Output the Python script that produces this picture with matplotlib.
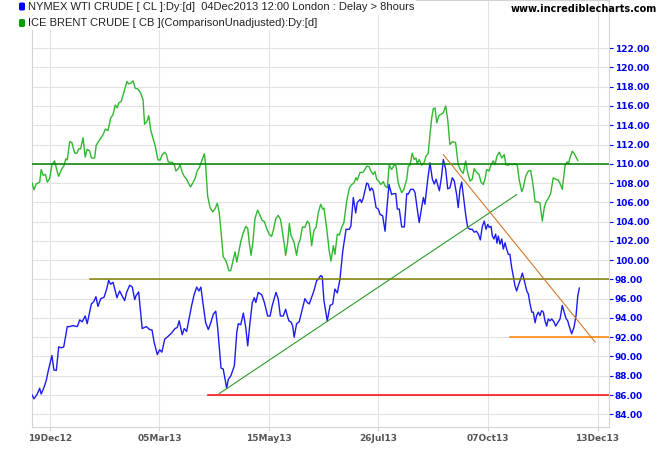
import matplotlib
matplotlib.use("Agg")
import matplotlib.pyplot as plt
from matplotlib.patches import FancyBboxPatch

# x = trading-day position (0 = 19Dec12), y = price
wti = [(-8.2, 86.0), (-7.3, 85.6), (-5.8, 86.1), (-4.7, 86.7), (-4.0, 86.1), (-2.7, 86.8), (-1.7, 87.5),
       (-0.6, 88.7), (0.9, 90.1), (1.8, 88.6), (2.9, 88.55), (4.0, 91.0), (5.2, 90.9), (6.3, 91.0), (7.9, 93.1),
       (9.0, 93.1), (10.5, 93.2), (12.5, 93.1), (13.6, 93.8), (14.7, 93.6), (16.1, 94.2), (17.0, 93.4),
       (18.9, 95.45), (20.0, 95.7), (21.0, 96.2), (21.9, 95.2), (23.2, 96.0), (24.7, 96.15), (25.9, 97.0),
       (26.8, 97.9), (27.7, 97.5), (28.8, 97.7), (29.8, 96.8), (30.6, 96.1), (31.8, 96.8), (32.9, 96.3),
       (34.1, 95.8), (35.0, 96.65), (36.4, 97.4), (37.6, 97.2), (38.7, 95.9), (39.3, 96.3), (40.5, 96.7),
       (41.4, 94.6), (42.1, 92.9), (44.0, 93.1), (45.5, 92.8), (46.6, 92.75), (47.5, 91.55), (49.0, 90.2),
       (50.1, 90.7), (51.1, 90.45), (52.4, 91.8), (54.0, 92.1), (55.6, 92.45), (57.1, 92.9), (58.1, 93.0),
       (59.0, 93.7), (60.4, 92.25), (61.3, 92.9), (62.4, 92.6), (63.5, 93.9), (64.7, 95.3), (65.8, 96.4),
       (67.0, 97.2), (68.0, 96.8), (68.9, 97.2), (70.0, 95.3), (71.1, 93.5), (72.3, 92.8), (73.5, 93.55),
       (74.6, 94.4), (75.7, 94.7), (76.6, 92.9), (78.1, 88.8), (79.1, 88.7), (80.7, 86.7), (81.4, 87.6),
       (82.6, 88.0), (84.2, 89.05), (85.3, 92.5), (86.0, 93.4), (87.1, 93.3), (88.3, 94.5), (89.4, 93.0),
       (90.3, 91.1), (91.3, 93.45), (92.4, 95.6), (93.3, 96.1), (94.0, 95.6), (95.1, 96.65), (96.7, 96.4),
       (97.9, 95.6), (99.4, 94.2), (100.5, 94.2), (101.5, 95.3), (103.2, 96.65), (104.2, 96.0), (105.2, 94.2),
       (106.5, 94.2), (107.6, 94.9), (108.4, 94.2), (109.1, 93.7), (110.0, 93.6), (110.8, 93.2), (111.5, 92.0),
       (112.6, 93.4), (113.8, 93.6), (115.3, 95.0), (116.4, 96.0), (117.5, 95.6), (118.4, 95.45), (119.5, 96.15),
       (120.5, 96.8), (121.8, 97.9), (122.5, 98.0), (123.6, 98.4), (124.3, 98.3), (125.1, 95.8), (126.6, 93.7),
       (127.9, 95.3), (129.1, 95.45), (130.1, 97.0), (131.2, 96.6), (132.4, 98.0), (133.7, 100.95),
       (135.2, 103.2), (136.7, 103.2), (137.4, 103.55), (138.5, 106.5), (139.6, 104.9), (140.3, 105.97),
       (141.6, 106.3), (142.3, 105.97), (143.1, 106.5), (144.6, 108.0), (145.3, 107.9), (146.1, 107.2),
       (146.9, 107.5), (147.6, 107.2), (148.9, 105.45), (149.9, 105.3), (150.7, 104.75), (151.9, 104.6),
       (153.0, 103.0), (154.0, 105.8), (154.8, 107.85), (156.0, 106.8), (156.8, 106.9), (157.9, 106.9),
       (158.6, 105.3), (159.5, 105.3), (160.6, 103.45), (161.8, 103.45), (162.9, 106.9), (163.6, 106.85),
       (164.7, 107.35), (165.9, 107.35), (166.7, 107.0), (167.7, 105.3), (168.6, 103.9), (169.7, 105.45),
       (170.5, 106.5), (171.2, 105.8), (172.5, 108.4), (173.5, 110.1), (174.6, 108.4), (175.5, 107.9),
       (176.3, 108.4), (177.8, 107.2), (178.8, 108.7), (179.6, 110.45), (180.7, 109.4), (181.6, 107.4),
       (182.6, 107.5), (183.7, 108.55), (184.6, 108.2), (185.7, 106.8), (186.4, 105.45), (187.2, 107.35),
       (188.0, 108.1), (188.7, 106.8), (189.8, 104.75), (190.7, 103.4), (191.8, 103.2), (192.8, 103.2),
       (193.7, 102.9), (194.7, 103.0), (195.6, 102.7), (196.5, 102.1), (197.4, 103.5), (198.3, 104.05),
       (199.1, 103.2), (199.9, 103.7), (200.6, 103.4), (201.4, 103.5), (202.0, 102.5), (202.7, 102.2),
       (203.5, 102.7), (204.1, 101.75), (204.7, 102.5), (205.5, 101.65), (206.3, 102.2), (207.0, 101.15),
       (207.8, 101.8), (208.5, 101.15), (209.3, 100.6), (210.0, 100.6), (210.8, 99.25), (211.5, 98.4),
       (212.3, 97.35), (213.1, 96.8), (213.8, 97.35), (214.6, 97.85), (215.7, 98.65), (216.6, 97.85),
       (217.7, 96.8), (218.4, 96.5), (219.2, 95.45), (220.0, 94.6), (220.7, 94.6), (221.5, 93.5), (222.2, 94.25),
       (223.0, 94.6), (223.7, 94.25), (224.5, 94.75), (225.3, 94.6), (226.0, 93.7), (226.8, 93.15),
       (227.5, 93.9), (228.3, 93.7), (229.1, 93.9), (230.1, 93.6), (230.9, 93.15), (231.8, 93.5), (232.9, 93.9),
       (233.9, 95.3), (234.8, 94.6), (235.6, 93.95), (236.4, 93.7), (237.0, 93.2), (238.2, 92.35),
       (239.3, 93.05), (240.2, 94.25), (241.0, 96.3), (241.7, 97.1)]

brent = [(-8.2, 108.0), (-7.3, 107.3), (-6.3, 107.9), (-4.7, 108.1), (-4.0, 109.4), (-3.1, 108.8), (-2.1, 108.9),
         (-1.2, 108.1), (-0.1, 108.5), (0.9, 109.9), (2.1, 110.3), (3.3, 109.2), (4.0, 108.7), (5.2, 109.4),
         (6.4, 109.8), (7.2, 110.5), (7.9, 110.4), (9.0, 112.3), (10.0, 112.2), (11.3, 111.1), (12.3, 111.1),
         (13.1, 111.55), (14.0, 111.55), (15.1, 112.7), (16.1, 110.7), (17.0, 111.5), (18.1, 111.35),
         (18.9, 110.6), (20.4, 110.6), (21.1, 111.9), (22.7, 112.5), (24.2, 113.0), (25.3, 113.6), (26.5, 113.45),
         (27.7, 114.75), (28.8, 115.1), (29.8, 116.1), (30.7, 115.8), (31.4, 116.3), (32.6, 116.5), (33.7, 117.4),
         (35.2, 118.55), (35.9, 118.3), (36.8, 118.35), (38.0, 118.6), (38.9, 117.85), (40.2, 117.75),
         (41.4, 117.35), (42.5, 116.65), (43.2, 114.1), (44.3, 114.4), (45.1, 115.0), (46.0, 113.5), (47.0, 112.7),
         (48.1, 111.8), (49.3, 110.4), (50.4, 110.4), (51.1, 110.9), (52.4, 111.2), (53.1, 111.0), (54.0, 110.2),
         (54.8, 110.15), (55.8, 110.15), (56.8, 109.9), (57.5, 109.25), (58.6, 109.5), (59.4, 109.9),
         (60.4, 109.1), (61.3, 108.7), (62.4, 108.4), (63.2, 108.0), (64.2, 107.6), (65.2, 108.0), (66.2, 108.45),
         (67.3, 109.3), (68.2, 109.6), (69.3, 110.3), (70.5, 111.05), (71.1, 109.75), (72.0, 106.65),
         (73.1, 105.45), (74.3, 105.0), (75.3, 105.3), (76.4, 105.9), (77.3, 104.9), (78.4, 102.2), (79.1, 100.35),
         (80.2, 100.0), (81.1, 99.4), (81.7, 98.9), (82.5, 98.9), (83.4, 99.75), (84.5, 100.85), (85.3, 99.8),
         (86.0, 100.6), (87.2, 102.0), (88.3, 102.85), (89.4, 103.5), (90.3, 103.3), (91.0, 101.8), (91.8, 100.5),
         (92.6, 101.75), (93.6, 104.3), (94.8, 105.2), (95.9, 104.65), (96.9, 104.1), (97.9, 104.0), (98.9, 103.3),
         (100.1, 102.7), (101.2, 102.45), (102.0, 103.1), (103.1, 104.3), (104.2, 104.65), (105.3, 104.2),
         (106.1, 103.0), (107.0, 101.65), (107.6, 100.5), (108.5, 101.8), (109.3, 103.8), (110.0, 102.6),
         (110.8, 102.2), (111.5, 101.8), (112.6, 100.5), (113.4, 101.65), (114.2, 102.1), (115.3, 103.45),
         (116.4, 103.4), (117.5, 104.05), (118.4, 103.8), (119.5, 101.5), (120.5, 103.1), (121.5, 103.4),
         (122.5, 104.9), (123.6, 105.8), (124.5, 105.3), (125.1, 105.4), (126.3, 103.4), (127.5, 100.95),
         (128.3, 99.9), (129.4, 101.5), (130.1, 100.6), (131.2, 102.7), (132.1, 102.6), (133.2, 103.4),
         (134.2, 103.9), (135.5, 106.15), (136.7, 107.5), (137.8, 107.85), (138.8, 108.0), (139.7, 108.55),
         (140.3, 108.3), (141.6, 109.1), (142.8, 109.1), (143.8, 109.4), (144.6, 109.75), (145.7, 109.7),
         (146.6, 109.2), (147.6, 108.9), (148.4, 109.2), (149.2, 108.4), (150.2, 108.15), (151.1, 107.85),
         (152.2, 108.15), (153.0, 107.7), (154.0, 107.5), (154.9, 109.85), (156.0, 109.4), (157.1, 109.85),
         (158.0, 109.8), (159.0, 108.0), (160.6, 107.0), (161.6, 107.35), (162.9, 108.4), (163.6, 109.75),
         (164.4, 109.85), (165.4, 111.1), (166.3, 110.45), (167.1, 110.6), (167.7, 110.0), (168.6, 110.45),
         (169.7, 109.85), (170.8, 110.1), (171.7, 110.8), (172.7, 111.05), (173.5, 113.0), (174.3, 114.75),
         (175.0, 115.7), (175.8, 115.8), (176.6, 114.25), (177.6, 115.0), (179.6, 115.3), (180.7, 116.0),
         (181.6, 114.6), (182.6, 112.0), (183.8, 112.3), (185.2, 112.2), (186.4, 109.9), (187.7, 109.25),
         (188.7, 109.0), (189.8, 110.3), (190.7, 109.1), (191.8, 108.2), (192.8, 108.4), (193.7, 109.5),
         (194.8, 109.1), (195.9, 108.9), (196.8, 108.1), (197.9, 107.85), (198.6, 108.4), (199.4, 109.4),
         (200.5, 109.25), (201.4, 109.9), (202.4, 110.3), (203.2, 109.9), (204.1, 110.8), (205.2, 111.2),
         (206.3, 110.6), (207.4, 110.95), (208.2, 109.9), (209.3, 109.85), (210.0, 110.0), (211.1, 109.9),
         (212.3, 110.0), (213.4, 109.85), (214.2, 108.4), (215.4, 107.1), (216.1, 107.5), (217.2, 108.7),
         (218.4, 109.25), (219.5, 109.3), (220.4, 108.1), (221.5, 106.05), (222.5, 106.05), (223.7, 105.95),
         (224.8, 104.05), (225.7, 105.45), (226.5, 106.05), (227.5, 106.4), (228.6, 106.9), (229.8, 108.55),
         (230.9, 108.4), (232.1, 108.3), (232.9, 107.95), (233.9, 107.35), (235.2, 109.85), (236.2, 110.2),
         (236.7, 110.0), (237.4, 110.6), (238.5, 111.3), (239.4, 111.05), (241.0, 110.35)]

# horizontal support / resistance levels: (price, start day, colour)
levels = [(110, -8.2, "#008000"), (98, 18.3, "#808000"), (86, 72.1, "#ff0000"), (92, 210.0, "#ff8000")]
# trend lines: (x0, y0, x1, y1, colour)
trends = [(77.3, 86.15, 213.1, 106.8, "#2e9a2e"), (179.6, 110.95, 248.9, 91.5, "#d2782a")]

tick_pos = [0, 50, 100, 150, 200, 250]
tick_lbl = ["19Dec12", "05Mar13", "15May13", "26Jul13", "07Oct13", "13Dec13"]
y_ticks = list(range(84, 123, 2))

x_right = 255.25

fig = plt.figure(figsize=(6.65, 4.5), dpi=100)
ax = fig.add_axes([32 / 665, 23 / 450, 577 / 665, 427 / 450])

bx, by = zip(*brent)
wx, wy = zip(*wti)
ax.plot(bx, by, color="#2fb82f", lw=1.0, zorder=3)
ax.plot(wx, wy, color="#1c1cf0", lw=1.0, zorder=3)

for price, start, col in levels:
    ax.plot([start, x_right], [price, price], color=col, lw=1.1, zorder=4)
for x0, y0, x1, y1, col in trends:
    ax.plot([x0, x1], [y0, y1], color=col, lw=0.8, zorder=4)

ax.set_xlim(-8.2, x_right)
ax.set_ylim(82.68, 127.0)
ax.set_xticks(tick_pos)
ax.set_xticklabels(tick_lbl)
ax.set_yticks(y_ticks)
ax.set_yticklabels(["%.2f" % v for v in y_ticks])
ax.yaxis.tick_right()
ax.grid(True, color="#e2e2e2", lw=0.8)
ax.set_axisbelow(True)
for s in ax.spines.values():
    s.set_color("#d4d4d4")
    s.set_linewidth(0.8)

ax.tick_params(axis="y", colors="#0000ee", length=3, width=0.8, pad=1, labelsize=6.5)
ax.tick_params(axis="x", colors="#d4d4d4", labelcolor="#555555", length=3, width=0.8, pad=2, labelsize=6.5)
for lbl in ax.get_yticklabels() + ax.get_xticklabels():
    lbl.set_fontweight("bold")

# legend block
fig.add_artist(FancyBboxPatch((19 / 665, 1 - 10.5 / 450), 6 / 665, 8 / 450, boxstyle="round,pad=0,rounding_size=0.003",
                              transform=fig.transFigure, facecolor="#0000ff", edgecolor="none"))
fig.add_artist(FancyBboxPatch((19 / 665, 1 - 27 / 450), 6 / 665, 8 / 450, boxstyle="round,pad=0,rounding_size=0.003",
                              transform=fig.transFigure, facecolor="#00a000", edgecolor="none"))
fig.text(28 / 665, 1 - 7.5 / 450, "NYMEX WTI CRUDE [ CL ]:Dy:[d]  04Dec2013 12:00 London : Delay > 8hours",
         family="Liberation Sans", fontsize=8, color="#222222", va="center",
         bbox=dict(facecolor="white", edgecolor="none", pad=1.5))
fig.text(28 / 665, 1 - 23 / 450, "ICE BRENT CRUDE [ CB ](ComparisonUnadjusted):Dy:[d]",
         family="Liberation Sans", fontsize=8, color="#222222", va="center",
         bbox=dict(facecolor="white", edgecolor="none", pad=1.5))
fig.text(657 / 665, 1 - 8.5 / 450, "www.incrediblecharts.com", ha="right", va="center",
         fontsize=7, fontweight="bold", color="black")

fig.savefig("out.png", dpi=100)
